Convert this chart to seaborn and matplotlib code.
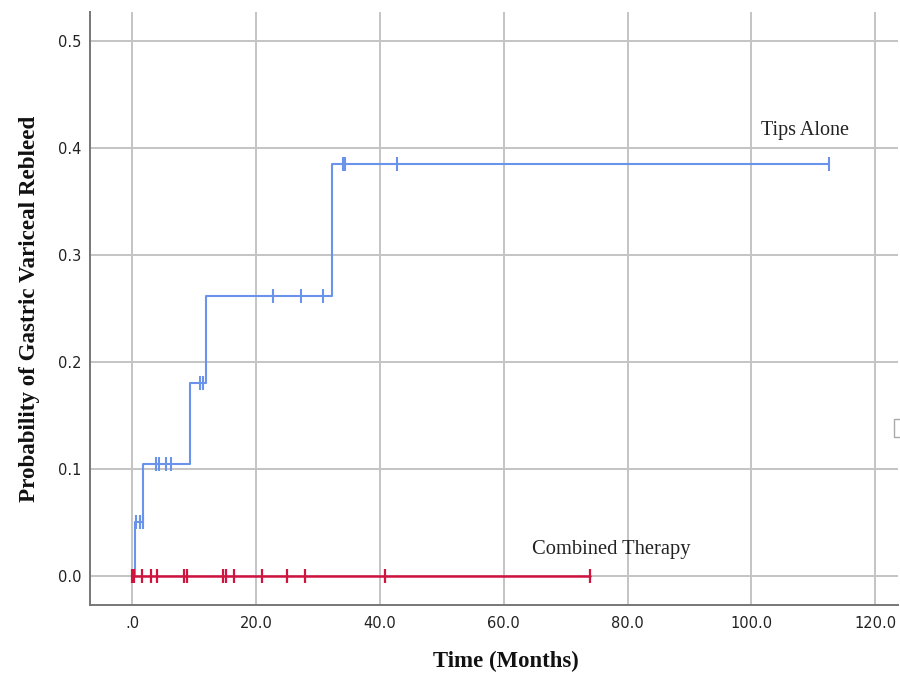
import numpy as np
import pandas as pd
import matplotlib
matplotlib.use("Agg")
import matplotlib.pyplot as plt
import seaborn as sns

# ---- data ----
tips_times = [0.0, 0.5, 1.75, 9.4, 12.0, 32.3, 112.6]
tips_probs = [0.0, 0.05, 0.105, 0.18, 0.262, 0.385, 0.385]
tips_censor = [0.6, 1.3, 1.7, 3.8, 4.4, 5.5, 6.3, 11.0, 11.5, 22.8, 27.3, 30.9,
               34.0, 34.4, 42.8, 112.6]

comb_times = [0.0, 73.9]
comb_probs = [0.0, 0.0]
comb_censor = [0.0, 0.1, 0.2, 0.3, 1.6, 3.1, 4.0, 8.3, 8.8, 14.7, 15.1, 16.4,
               20.9, 25.0, 27.9, 40.8, 73.9]

x_ticks = [0, 20, 40, 60, 80, 100, 120]
x_labels = [".0", "20.0", "40.0", "60.0", "80.0", "100.0", "120.0"]
y_ticks = [0.0, 0.1, 0.2, 0.3, 0.4, 0.5]
y_labels = ["0.0", "0.1", "0.2", "0.3", "0.4", "0.5"]

BLUE = "#6a93ec"
RED = "#d01440"


def step_value(times, probs, t):
    idx = np.searchsorted(np.array(times), t, side="right") - 1
    return np.array(probs)[np.clip(idx, 0, len(probs) - 1)]


sns.set_theme(style="white")
fig = plt.figure(figsize=(9, 6.74), dpi=100)
ax = fig.add_axes([0.1, 0.1024, 0.898, 0.8798])

tips_df = pd.DataFrame({"t": tips_times, "p": tips_probs})
comb_df = pd.DataFrame({"t": comb_times, "p": comb_probs})

sns.lineplot(data=tips_df, x="t", y="p", ax=ax, color=BLUE, lw=1.5,
             drawstyle="steps-post", estimator=None, zorder=3)
sns.lineplot(data=comb_df, x="t", y="p", ax=ax, color=RED, lw=1.8,
             drawstyle="steps-post", estimator=None, zorder=4)

tc = pd.DataFrame({"t": tips_censor,
                   "p": [step_value(tips_times, tips_probs, t - 1e-9) for t in tips_censor]})
cc = pd.DataFrame({"t": comb_censor, "p": [0.0] * len(comb_censor)})
sns.scatterplot(data=tc, x="t", y="p", ax=ax, marker="|", s=100, linewidth=1.5,
                color=BLUE, zorder=5)
sns.scatterplot(data=cc, x="t", y="p", ax=ax, marker="|", s=100, linewidth=1.6,
                color=RED, zorder=6)

ax.set_xlim(-6.8, 123.7)
ax.set_ylim(-0.0271, 0.527)
ax.set_xticks(x_ticks)
ax.set_xticklabels(x_labels)
ax.set_yticks(y_ticks)
ax.set_yticklabels(y_labels)
ax.tick_params(axis="both", labelsize=10.5, colors="#222222", length=0)
ax.tick_params(axis="x", pad=8)
ax.tick_params(axis="y", pad=6)
for lab in ax.get_xticklabels() + ax.get_yticklabels():
    lab.set_fontfamily("DejaVu Sans")

ax.grid(True, color="#c4c4c4", lw=1.4)
ax.set_axisbelow(True)
for s in ["top", "right"]:
    ax.spines[s].set_visible(False)
for s in ["left", "bottom"]:
    ax.spines[s].set_color("#777777")
    ax.spines[s].set_linewidth(1.4)

ax.set_xlabel("Time (Months)", fontfamily="Liberation Serif", fontweight="bold",
              fontsize=16.4, color="#111111")
ax.xaxis.set_label_coords(0.514, -0.078)
ax.set_ylabel("Probability of Gastric Variceal Rebleed", fontfamily="Liberation Serif",
              fontweight="bold", fontsize=16.6, color="#111111")
ax.yaxis.set_label_coords(-0.062, 0.5)

ax.text(101.5, 0.416, "Tips Alone", fontfamily="Liberation Serif", fontsize=14.5,
        color="#222222", va="center", ha="left")
ax.text(64.6, 0.025, "Combined Therapy", fontfamily="Liberation Serif", fontsize=14.8,
        color="#222222", va="center", ha="left")

# small clipped legend box fragment at the right edge
fig.patches.append(plt.Rectangle((0.993, 0.352), 0.02, 0.026, transform=fig.transFigure,
                                 fill=False, edgecolor="#aaaaaa", lw=1.0))

fig.savefig("out.png", dpi=100)
